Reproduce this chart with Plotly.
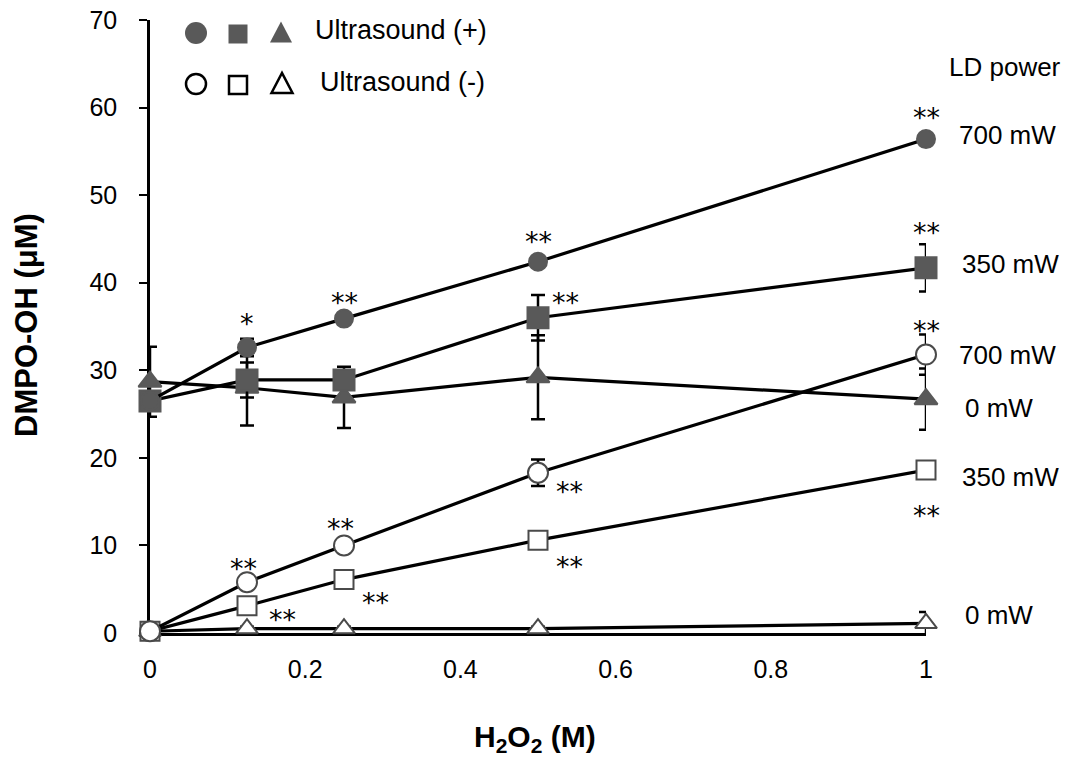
import plotly.graph_objects as go

# ---------------- data ----------------
h2o2 = [0, 0.125, 0.25, 0.5, 1]

us_plus_700 = [26.5, 32.6, 35.9, 42.4, 56.4]
us_plus_700_err = [0.4, 1.0, 0.5, 0.5, 0.5]
us_plus_350 = [26.5, 28.9, 28.9, 36.0, 41.7]
us_plus_350_err = [0.5, 2.0, 0.6, 2.6, 2.7]
us_plus_0 = [28.7, 28.0, 26.9, 29.2, 26.7]
us_plus_0_err = [4.0, 4.3, 3.5, 4.8, 3.5]

us_minus_700 = [0.2, 5.8, 10.0, 18.3, 31.8]
us_minus_700_err = [0.2, 0.5, 0.5, 1.5, 2.3]
us_minus_350 = [0.2, 3.1, 6.1, 10.6, 18.6]
us_minus_350_err = [0.2, 0.5, 0.5, 0.5, 0.5]
us_minus_0 = [0.2, 0.5, 0.5, 0.5, 1.1]
us_minus_0_err = [0.1, 0.2, 0.2, 0.2, 1.3]

y_ticks = [0, 10, 20, 30, 40, 50, 60, 70]
x_ticks = [0, 0.2, 0.4, 0.6, 0.8, 1]
x_tick_labels = ["0", "0.2", "0.4", "0.6", "0.8", "1"]

power_labels = ["700 mW", "350 mW", "700 mW", "0 mW", "350 mW", "0 mW"]
legend_texts = ["Ultrasound (+)", "Ultrasound (-)"]

# significance marks: (x, y, text)
sig_marks = [
    (0.125, 36.0, "*"), (0.25, 38.4, "**"), (0.5, 45.4, "**"), (1, 59.5, "**"),
    (0.535, 38.4, "**"), (1, 46.4, "**"),
    (0.12, 8.0, "**"), (0.245, 12.6, "**"), (0.541, 16.9, "**"), (1, 35.2, "**"),
    (0.171, 2.2, "**"), (0.29, 4.2, "**"), (0.541, 8.3, "**"), (1, 14.1, "**"),
]

# ---------------- style ----------------
FONT = "Liberation Sans, Arial, sans-serif"
FILL = "#595959"
EDGE = "#4a4a4a"
fig = go.Figure()

series = [
    (us_plus_0, us_plus_0_err, "triangle-up", 20, FILL, FILL),
    (us_plus_350, us_plus_350_err, "square", 21, FILL, FILL),
    (us_plus_700, us_plus_700_err, "circle", 18, FILL, FILL),
    (us_minus_0, us_minus_0_err, "triangle-up", 19, "white", EDGE),
    (us_minus_350, us_minus_350_err, "square", 19, "white", EDGE),
    (us_minus_700, us_minus_700_err, "circle", 20, "white", EDGE),
]
for ys, err, sym, size, fill, edge in series:
    fig.add_trace(go.Scatter(
        x=h2o2, y=ys, mode="lines+markers",
        line=dict(color="black", width=3.2),
        marker=dict(symbol=sym, size=size, color=fill,
                    line=dict(color=edge, width=2)),
        error_y=dict(type="data", array=err, visible=True,
                     color="black", thickness=2.5, width=7),
        cliponaxis=False, showlegend=False, hoverinfo="skip",
    ))

annotations = []
for x, y, t in sig_marks:
    annotations.append(dict(x=x, y=y, xref="x", yref="y", text=t,
                            showarrow=False, yshift=-6,
                            font=dict(family="DejaVu Sans", size=27, color="black"),
                            xanchor="center", yanchor="middle"))

# right-hand power labels
label_y = [56.9, 42.1, 31.8, 25.7, 17.8, 2.1]
label_dx = [31, 34, 31, 37, 34, 37]
for t, y, dx in zip(power_labels, label_y, label_dx):
    annotations.append(dict(x=1, y=y, xref="x", yref="y", text=t, showarrow=False,
                            xanchor="left", yanchor="middle", xshift=dx,
                            font=dict(family=FONT, size=26, color="black")))
annotations.append(dict(x=1, y=64.6, xref="x", yref="y", text="LD power", showarrow=False,
                        xanchor="left", yanchor="middle", xshift=21,
                        font=dict(family=FONT, size=26, color="black")))

# legend texts
W, H = 776, 613
def px(xp):
    return (xp - 150) / W
def py(yp):
    return (633 - yp) / H

annotations.append(dict(x=px(313), y=py(30), xref="paper", yref="paper", text=legend_texts[0],
                        showarrow=False, xanchor="left", yanchor="middle",
                        font=dict(family=FONT, size=27, color="black")))
annotations.append(dict(x=px(318), y=py(82), xref="paper", yref="paper", text=legend_texts[1],
                        showarrow=False, xanchor="left", yanchor="middle",
                        font=dict(family=FONT, size=27, color="black")))

# axis titles
annotations.append(dict(x=px(26), y=py(325), xref="paper", yref="paper",
                        text="<b>DMPO-OH (μM)</b>", textangle=-90, showarrow=False,
                        xanchor="center", yanchor="middle",
                        font=dict(family=FONT, size=31, color="black")))
annotations.append(dict(x=px(535), y=py(738), xref="paper", yref="paper",
                        text="<b>H<sub>2</sub>O<sub>2</sub> (M)</b>", showarrow=False,
                        xanchor="center", yanchor="middle",
                        font=dict(family=FONT, size=30, color="black")))

# legend symbols as shapes (pixel sized)
shapes = []
def sym_shape(kind, cx, cy, s, filled):
    common = dict(xref="paper", yref="paper", xsizemode="pixel", ysizemode="pixel",
                  xanchor=px(cx), yanchor=py(cy),
                  fillcolor=FILL if filled else "white",
                  line=dict(color=FILL if filled else "black", width=0 if filled else 2.5))
    h = s / 2
    if kind == "circle":
        return dict(type="circle", x0=-h, x1=h, y0=-h, y1=h, **common)
    if kind == "square":
        return dict(type="rect", x0=-h, x1=h, y0=-h, y1=h, **common)
    return dict(type="path", path=f"M {-h*1.05},{-h} L {h*1.05},{-h} L 0,{h} Z", **common)

shapes += [sym_shape("circle", 196, 33, 22, True),
           sym_shape("square", 238, 34, 19, True),
           sym_shape("tri", 281, 32, 21, True),
           sym_shape("circle", 196, 84, 20, False),
           sym_shape("square", 238, 85, 18, False),
           sym_shape("tri", 282, 83, 20, False)]

fig.update_layout(
    width=1070, height=758,
    margin=dict(l=150, r=144, t=20, b=125, autoexpand=False),
    paper_bgcolor="white", plot_bgcolor="white",
    annotations=annotations, shapes=shapes,
    xaxis=dict(range=[0, 1], tickvals=x_ticks, ticktext=x_tick_labels,
               showgrid=False, zeroline=False, showline=True, linecolor="black",
               linewidth=2.5, ticks="", ticklabelstandoff=12, layer="below traces",
               tickfont=dict(family=FONT, size=25, color="black")),
    yaxis=dict(range=[0, 70], tickvals=y_ticks, showgrid=False, zeroline=False,
               showline=True, linecolor="black", linewidth=2.5, ticks="outside",
               ticklen=8, tickwidth=2, tickcolor="black", ticklabelstandoff=17,
               layer="below traces",
               tickfont=dict(family=FONT, size=25, color="black")),
)

fig.write_html("out.html", config={"displayModeBar": False},
               post_script="document.body.style.margin='0';document.body.style.overflow='hidden';")
